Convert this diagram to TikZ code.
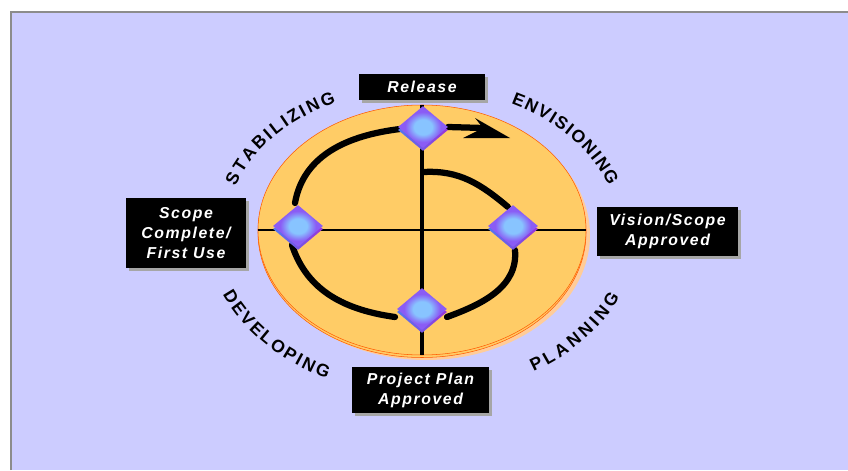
\documentclass[tikz,border=0pt]{standalone}
\usepackage{fontspec}
\setsansfont{Liberation Sans}
\newfontfamily\labelfont{Liberation Sans}[LetterSpace=10]
\usetikzlibrary{shapes.geometric,shadows,decorations.text}
\definecolor{panelblue}{HTML}{CCCCFF}
\definecolor{discorange}{HTML}{FFCC66}
\definecolor{discshade}{HTML}{FFCC99}
\definecolor{gemviolet}{HTML}{8A5CF5}
\definecolor{gemlight}{HTML}{88C4FF}
\definecolor{gemedge}{HTML}{9A35D8}
\definecolor{gemblue}{HTML}{5577EE}
\pgfdeclareradialshading{gemshade}{\pgfpoint{0bp}{0bp}}{color(0bp)=(gemlight); color(9bp)=(gemlight); color(18bp)=(gemviolet); color(50bp)=(gemviolet)}
\tikzset{
	disc/.style={ellipse, minimum width=6.56cm, minimum height=5cm, inner sep=0pt},
	gem/.style={diamond, inner sep=0pt, minimum width=1cm, minimum height=.84cm, shading=gemshade},
	gembase/.style={diamond, inner sep=0pt, minimum width=1cm, minimum height=.84cm, left color=gemblue, right color=gemedge},
	milestone/.style={fill=black, text=white, align=center, inner sep=0pt, font=\labelfont\bfseries\itshape\fontsize{9}{11.4}\selectfont, drop shadow={shadow xshift=.05cm, shadow yshift=-.05cm, opacity=1, fill=black!35}},
	crossline/.style={line width=.055cm},
	crossstem/.style={line width=.07cm},
	spiral/.style={line width=.125cm, line cap=round},
	phase/.style={decorate, decoration={text along path, text align={fit to path}, text={|\sffamily\bfseries\fontsize{10}{10}\selectfont|#1}}}
}
\begin{document}
\begin{tikzpicture}
	\useasboundingbox (0,0) rectangle (16.96,9.4);
	\fill[white] (0,0) rectangle (16.96,9.4);
	\fill[panelblue] (.22,0) rectangle (16.96,9.16);
	\draw[black!45, line width=.05cm] (.22,0) -- (.22,9.16) -- (16.96,9.16);

	% the disc
	\node[disc, fill=discshade] (discshadow) at (8.52,4.7) {};
	\node[disc, fill=discorange, draw=orange!70!red, line width=.3pt] (discrim) at (8.44,4.75) {};
	\node[disc, fill=discorange, draw=orange!70!red, line width=.3pt] (disc) at (8.44,4.8) {};
	\draw[crossline] (disc.west) -- (disc.east);
	\draw[crossstem] (disc.north) -- (disc.south);

	% the spiral
	\coordinate (start) at (8.48,5.96);
	\coordinate (rightin) at (10.16,5.26);
	\coordinate (rightout) at (10.3,4.4);
	\coordinate (bottomin) at (8.94,3.06);
	\coordinate (bottomout) at (7.9,3.06);
	\coordinate (leftin) at (5.84,4.5);
	\coordinate (leftout) at (5.9,5.34);
	\coordinate (topin) at (8,6.82);
	\coordinate (topout) at (8.96,6.86);
	\coordinate (headin) at (9.66,6.84);
	\coordinate (headtip) at (10.2,6.64);
	\coordinate (headtop) at (9.5,7.04);
	\coordinate (headlow) at (9.26,6.64);
	\draw[spiral] (start) to[out=3, in=140] (rightin);
	\draw[spiral] (rightout) to[out=-85, in=20] (bottomin);
	\draw[spiral] (bottomout) to[out=172, in=-72] (leftin);
	\draw[spiral] (leftout) to[out=80, in=187] (topin);
	\draw[spiral] (topout) -- (headin);
	\fill (headtip) -- (headtop) -- (headin) -- (headlow) -- cycle;

	% the milestones
	\node[gembase] (topbase) at (8.46,6.8) {};
	\node[gem] (top) at (8.46,6.86) {};
	\node[gembase] (rightbase) at (10.26,4.82) {};
	\node[gem] (right) at (10.26,4.88) {};
	\node[gembase] (bottombase) at (8.44,3.16) {};
	\node[gem] (bottom) at (8.44,3.22) {};
	\node[gembase] (leftbase) at (5.96,4.82) {};
	\node[gem] (left) at (5.96,4.88) {};

	\node[milestone, minimum width=2.52cm, minimum height=.52cm] (release) at (8.44,7.66) {Release};
	\node[milestone, minimum width=2.4cm, minimum height=1.4cm] (scope) at (3.72,4.74) {Scope\\Complete/\\First Use};
	\node[milestone, minimum width=2.82cm, minimum height=.98cm] (vision) at (13.35,4.77) {Vision/Scope\\Approved};
	\node[milestone, minimum width=2.74cm, minimum height=.92cm] (plan) at (8.41,1.6) {Project Plan\\Approved};

	% the phases
	\path[phase=ENVISIONING] (8.44,4.8) ++(63:3.92 and 2.84) arc[start angle=63, end angle=18, x radius=3.92, y radius=2.84];
	\path[phase=STABILIZING] (8.44,4.8) ++(162:3.92 and 2.84) arc[start angle=162, end angle=116, x radius=3.92, y radius=2.84];
	\path[phase=PLANNING] (8.44,4.8) ++(-59:4.33 and 3.31) arc[start angle=-59, end angle=-24, x radius=4.33, y radius=3.31];
	\path[phase=DEVELOPING] (8.44,4.8) ++(203:4.33 and 3.31) arc[start angle=203, end angle=244, x radius=4.33, y radius=3.31];
\end{tikzpicture}
\end{document}
